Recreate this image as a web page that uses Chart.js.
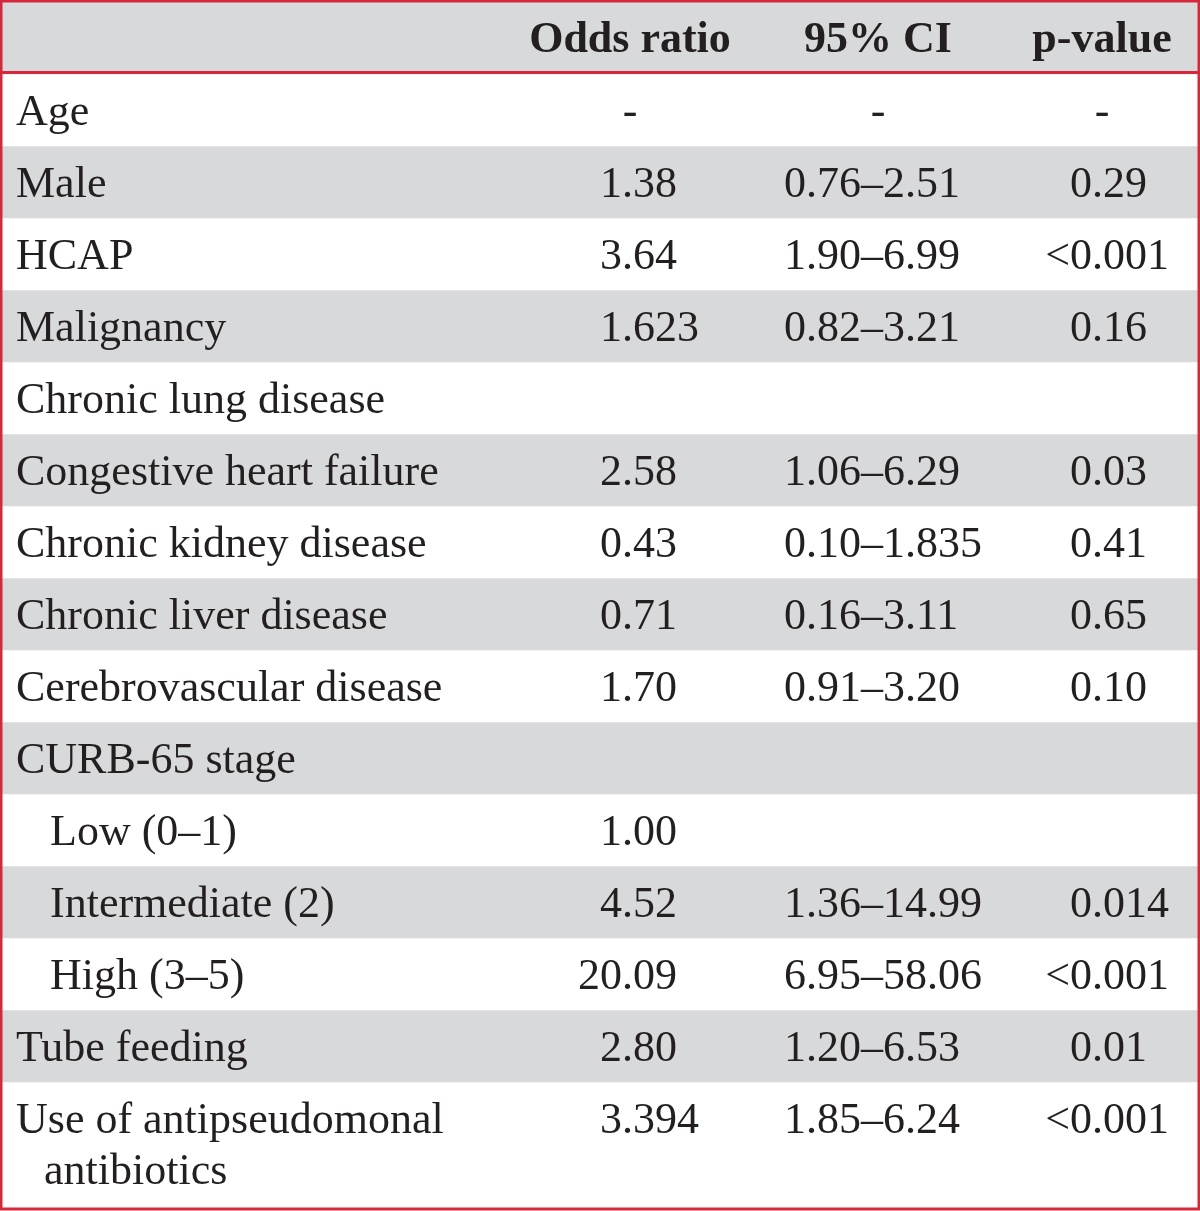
<!DOCTYPE html>
<html>
<head>
<meta charset="utf-8">
<script src="https://cdn.jsdelivr.net/npm/chart.js@4/dist/chart.umd.min.js"></script>
<style>
  html, body { margin: 0; padding: 0; background: #ffffff; }
  #table { display: block; }
</style>
</head>
<body>
<canvas id="table" width="1200" height="1211"></canvas>
<script>
// table content
const headers = ["", "Odds ratio", "95% CI", "p-value"];
const rowLabels = [
  "Age",
  "Male",
  "HCAP",
  "Malignancy",
  "Chronic lung disease",
  "Congestive heart failure",
  "Chronic kidney disease",
  "Chronic liver disease",
  "Cerebrovascular disease",
  "CURB-65 stage",
  "Low (0–1)",
  "Intermediate (2)",
  "High (3–5)",
  "Tube feeding",
  ["Use of antipseudomonal", "antibiotics"],
];
// rows that belong under "CURB-65 stage"
const subRows = [false, false, false, false, false, false, false, false, false, false, true, true, true, false, false];
const oddsRatio = ["-", "1.38", "3.64", "1.623", "", "2.58", "0.43", "0.71", "1.70", "", "1.00", "4.52", "20.09", "2.80", "3.394"];
const ci95 = ["-", "0.76–2.51", "1.90–6.99", "0.82–3.21", "", "1.06–6.29", "0.10–1.835", "0.16–3.11", "0.91–3.20", "", "", "1.36–14.99", "6.95–58.06", "1.20–6.53", "1.85–6.24"];
const pValue = ["-", "0.29", "<0.001", "0.16", "", "0.03", "0.41", "0.65", "0.10", "", "", "0.014", "<0.001", "0.01", "<0.001"];

const RED = "#d6283b";
const GRAY = "#d8d9db";
const INK = "#231f20";
const FONT = "Liberation Serif";

// each row is one stacked segment; its height grows with the number of text lines
function lineCount(label) {
  return Array.isArray(label) ? label.length : 1;
}
const headerHeight = 72;
const rowHeights = rowLabels.map((l) => 72 + (lineCount(l) - 1) * 54);
const totalHeight = headerHeight + rowHeights.reduce((a, b) => a + b, 0);

const datasets = [
  { label: "header", data: [headerHeight], backgroundColor: GRAY },
];
rowLabels.forEach((l, i) => {
  datasets.push({
    label: Array.isArray(l) ? l.join(" ") : l,
    data: [rowHeights[i]],
    backgroundColor: i % 2 === 1 ? GRAY : "#ffffff",
  });
});

function drawDecimal(ctx, text, decX, y) {
  const dot = text.indexOf(".");
  ctx.textAlign = "right";
  ctx.fillText(text.slice(0, dot), decX, y);
  ctx.textAlign = "left";
  ctx.fillText(text.slice(dot), decX, y);
}

const tablePlugin = {
  id: "tableText",
  afterDatasetsDraw(chart) {
    const ctx = chart.ctx;
    const y = chart.scales.y;
    const area = chart.chartArea;
    const L = area.left;
    const col = {
      label: L + 14,
      indent: L + 48,
      wrap: L + 42,
      oddsCenter: L + 628,
      oddsDec: L + 620,
      ciLeft: L + 782,
      ciCenter: L + 876,
      pDec: L + 1090,
      pCenter: L + 1100,
    };

    ctx.save();
    ctx.fillStyle = INK;
    ctx.textBaseline = "alphabetic";

    // header
    ctx.font = "bold 44px '" + FONT + "'";
    ctx.textAlign = "center";
    const hBase = y.getPixelForValue(0) + 50;
    ctx.fillText(headers[1], col.oddsCenter, hBase);
    ctx.fillText(headers[2], col.ciCenter, hBase);
    ctx.fillText(headers[3], col.pCenter, hBase);

    // body
    ctx.font = "44px '" + FONT + "'";
    let start = headerHeight;
    rowLabels.forEach((label, i) => {
      const top = y.getPixelForValue(start);
      const base = top + 51;
      const lines = Array.isArray(label) ? label : [label];
      ctx.textAlign = "left";
      lines.forEach((t, k) => {
        let x = subRows[i] ? col.indent : col.label;
        if (k > 0) x = col.wrap;
        ctx.fillText(t, x, base + k * 51);
      });

      const o = oddsRatio[i];
      if (o === "-") {
        ctx.textAlign = "center";
        ctx.fillText(o, col.oddsCenter, base);
      } else if (o) {
        drawDecimal(ctx, o, col.oddsDec, base);
      }

      const c = ci95[i];
      if (c === "-") {
        ctx.textAlign = "center";
        ctx.fillText(c, col.ciCenter, base);
      } else if (c) {
        ctx.textAlign = "left";
        ctx.fillText(c, col.ciLeft, base);
      }

      const p = pValue[i];
      if (p === "-") {
        ctx.textAlign = "center";
        ctx.fillText(p, col.pCenter, base);
      } else if (p) {
        drawDecimal(ctx, p, col.pDec, base);
      }

      start += rowHeights[i];
    });

    // red rules
    ctx.strokeStyle = RED;
    ctx.lineWidth = 3;
    const hy = y.getPixelForValue(headerHeight) - 1.5;
    ctx.beginPath();
    ctx.moveTo(area.left, hy);
    ctx.lineTo(area.right, hy);
    ctx.stroke();
    ctx.strokeRect(area.left - 1, area.top - 1, area.right - area.left + 2, area.bottom - area.top + 2);
    ctx.restore();
  },
};

const myChart = new Chart(document.getElementById("table").getContext("2d"), {
  type: "bar",
  data: { labels: ["table"], datasets: datasets },
  options: {
    responsive: false,
    animation: false,
    devicePixelRatio: 1,
    layout: { padding: { left: 2, right: 2, top: 2, bottom: 3 } },
    datasets: {
      bar: { barPercentage: 1, categoryPercentage: 1, borderWidth: 0 },
    },
    scales: {
      x: { stacked: true, display: false },
      y: { stacked: true, display: false, reverse: true, min: 0, max: totalHeight },
    },
    plugins: { legend: { display: false }, tooltip: { enabled: false } },
  },
  plugins: [tablePlugin],
});
</script>
</body>
</html>
